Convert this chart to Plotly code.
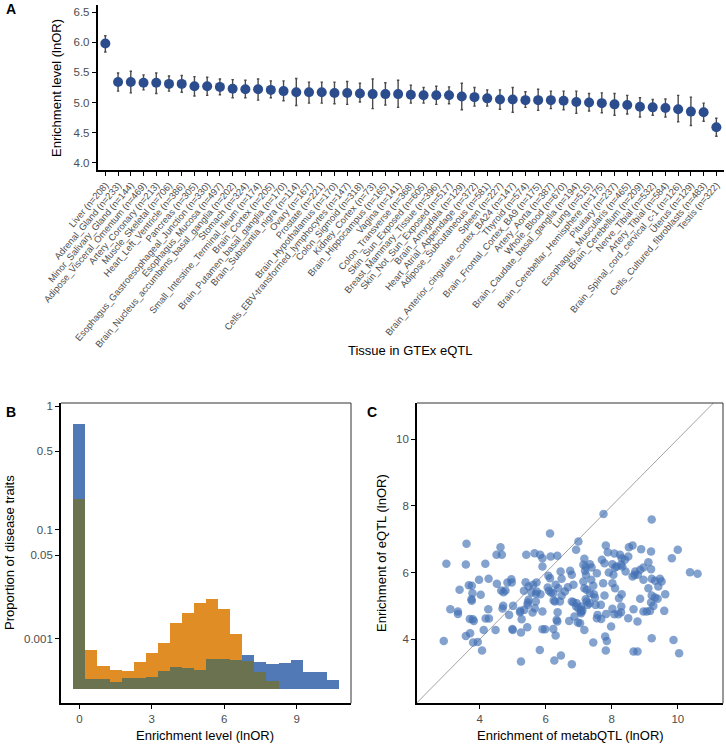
import plotly.graph_objects as go

W, H = 726, 744
FONT = "Liberation Sans, Arial, sans-serif"
TICKC = "#4d4d4d"

# ---------------- Panel A data ----------------
tissues = ["Liver (n=208)", "Adrenal_Gland (n=233)", "Minor_Salivary_Gland (n=144)",
           "Adipose_Visceral_Omentum (n=469)", "Artery_Coronary (n=213)", "Muscle_Skeletal (n=706)",
           "Heart_Left_Ventricle (n=386)", "Pancreas (n=305)", "Esophagus_Gastroesophageal_Junction (n=330)",
           "Esophagus_Mucosa (n=497)", "Brain_Nucleus_accumbens_basal_ganglia (n=202)", "Stomach (n=324)",
           "Small_Intestine_Terminal_Ileum (n=174)", "Brain_Cortex (n=205)", "Brain_Putamen_basal_ganglia (n=170)",
           "Brain_Substantia_nigra (n=114)", "Ovary (n=167)", "Prostate (n=221)", "Brain_Hypothalamus (n=170)",
           "Cells_EBV-transformed_lymphocytes (n=147)", "Colon_Sigmoid (n=318)", "Kidney_Cortex (n=73)",
           "Brain_Hippocampus (n=165)", "Vagina (n=141)", "Colon_Transverse (n=368)", "Skin_Sun_Exposed (n=605)",
           "Breast_Mammary_Tissue (n=396)", "Skin_Not_Sun_Exposed (n=517)", "Brain_Amygdala (n=129)",
           "Heart_Atrial_Appendage (n=372)", "Adipose_Subcutaneous (n=581)", "Spleen (n=227)",
           "Brain_Anterior_cingulate_cortex_BA24 (n=147)", "Thyroid (n=574)", "Brain_Frontal_Cortex_BA9 (n=175)",
           "Artery_Aorta (n=387)", "Whole_Blood (n=670)", "Brain_Caudate_basal_ganglia (n=194)", "Lung (n=515)",
           "Brain_Cerebellar_Hemisphere (n=175)", "Pituitary (n=237)", "Esophagus_Muscularis (n=465)",
           "Brain_Cerebellum (n=209)", "Nerve_Tibial (n=532)", "Artery_Tibial (n=584)",
           "Brain_Spinal_cord_cervical_c-1 (n=126)", "Uterus (n=129)", "Cells_Cultured_fibroblasts (n=483)",
           "Testis (n=322)"]
enrich = [5.98, 5.34, 5.34, 5.33, 5.33, 5.31, 5.31, 5.27, 5.27, 5.26,
          5.23, 5.22, 5.22, 5.21, 5.19, 5.17, 5.17, 5.17, 5.16, 5.16,
          5.15, 5.14, 5.14, 5.14, 5.13, 5.12, 5.12, 5.12, 5.10, 5.09,
          5.07, 5.05, 5.05, 5.04, 5.04, 5.04, 5.03, 5.01, 5.00, 4.99,
          4.97, 4.96, 4.93, 4.92, 4.91, 4.89, 4.85, 4.84, 4.59]
enrich_hi = [6.11, 5.49, 5.52, 5.46, 5.49, 5.44, 5.45, 5.43, 5.42, 5.39,
             5.38, 5.37, 5.39, 5.36, 5.36, 5.40, 5.34, 5.34, 5.34, 5.35,
             5.32, 5.39, 5.33, 5.37, 5.29, 5.25, 5.27, 5.26, 5.32, 5.25,
             5.21, 5.21, 5.25, 5.18, 5.22, 5.19, 5.19, 5.19, 5.15, 5.16,
             5.15, 5.12, 5.08, 5.05, 5.06, 5.12, 5.09, 4.99, 4.74]
enrich_lo = [5.84, 5.19, 5.16, 5.21, 5.15, 5.19, 5.17, 5.11, 5.12, 5.13,
             5.08, 5.08, 5.04, 5.08, 5.03, 4.95, 4.99, 4.99, 4.98, 4.97,
             5.01, 4.90, 4.96, 4.92, 4.99, 4.99, 4.97, 4.98, 4.88, 4.94,
             4.94, 4.89, 4.84, 4.92, 4.87, 4.90, 4.88, 4.82, 4.86, 4.83,
             4.79, 4.81, 4.76, 4.79, 4.76, 4.68, 4.62, 4.69, 4.44]

# ---------------- Panel B data ----------------
bin_centers = [0.0, 0.5, 1.0, 1.5, 2.0, 2.5, 3.0, 3.5, 4.0, 4.5, 5.0,
               5.5, 6.0, 6.5, 7.0, 7.5, 8.0, 8.5, 9.0, 9.5, 10.0, 10.5]
prop_eqtl = [0.773, 1.4e-6, 1.4e-6, 4.6e-7, 2.0e-6, 2.6e-6, 2.9e-6, 1.65e-5, 3.5e-5, 3.1e-5, 2.2e-5,
             1.22e-4, 1.22e-4, 1.11e-4, 2.1e-4, 8.8e-5, 6.2e-5, 7.6e-5, 1.11e-4, 1.22e-5, 1.22e-5, 1.03e-6]
prop_metab = [0.205, 3.64e-4, 4.16e-5, 2.2e-5, 1.65e-5, 8.0e-5, 2.55e-4, 6.9e-4, 2.93e-3, 5.07e-3, 8.5e-3,
              1.03e-2, 6.45e-3, 1.41e-3, 1.02e-4, 1.42e-5, 7.6e-7, 0, 0, 0, 0, 0]
prop_ticks = [1, 0.5, 0.1, 0.05, 0.001]
prop_tick_text = ["1", "0.5", "0.1", "0.05", "0.001"]

# ---------------- Panel C data ----------------
metab_left = [2.99, 3.58, 4.17, 3.60, 4.63, 4.51, 4.67, 2.91, 3.11, 3.34,
              3.34, 3.39, 3.67, 3.76, 3.78, 3.75, 3.76, 3.70, 3.79, 3.82,
              3.71, 3.58, 3.80, 3.94, 3.98, 4.03, 4.12, 4.07, 4.18, 4.27,
              4.28, 4.26, 4.48, 4.52, 4.65, 4.72, 4.78, 4.71, 4.69, 4.84,
              4.96, 4.97, 4.89, 5.01, 4.99, 5.00, 5.23, 5.22, 5.25, 5.25,
              5.27, 5.35, 5.34]
eqtl_left = [6.26, 6.24, 6.26, 6.86, 6.76, 6.53, 6.53, 3.95, 4.90, 4.83,
             4.76, 5.48, 5.62, 5.60, 5.38, 5.20, 5.15, 4.61, 4.60, 4.55,
             4.18, 4.10, 3.90, 3.92, 5.78, 5.33, 4.28, 3.66, 4.62, 5.81,
             4.62, 4.90, 4.28, 5.66, 5.46, 5.41, 5.46, 5.00, 4.92, 5.70,
             5.80, 5.70, 4.73, 5.00, 4.31, 4.28, 4.85, 4.81, 4.20, 3.33,
             4.60, 4.88, 5.45]
metab_mid = [5.39, 5.44, 5.48, 5.46, 5.48, 5.45, 5.57, 5.60, 5.62, 5.70,
             5.72, 5.70, 5.67, 5.73, 5.82, 5.84, 5.90, 5.90, 5.90, 5.98,
             5.41, 5.66, 5.83, 5.90, 6.15, 6.35, 6.13, 6.92, 6.99, 7.82,
             7.75, 8.08, 7.88, 7.70, 7.78, 8.02, 8.10, 7.17, 7.14, 7.21,
             7.34, 7.39,
             6.45, 6.48, 6.08, 6.13, 6.74, 6.79, 7.19, 7.22, 7.55, 8.05,
             6.06, 6.10, 6.23, 6.38, 6.58, 6.67, 6.84, 7.14, 7.17, 7.24,
             7.44, 7.34, 7.46, 7.49, 7.78, 8.02, 8.10,
             6.28, 6.43, 6.79, 6.84, 6.94, 7.07, 7.11, 7.07, 6.99, 7.24,
             7.27, 7.51, 7.83, 7.57, 7.55, 7.68, 8.02, 8.08, 6.36, 6.33,
             6.35, 6.71, 6.97, 7.04, 7.17, 7.98, 6.23, 6.30, 7.44, 7.80,
             7.85, 7.82, 6.46, 6.26, 6.79,
             6.16, 6.24, 6.30, 6.48, 6.87, 6.92, 7.21, 7.33, 7.38, 7.67,
             7.74, 7.91, 7.08, 7.06]
eqtl_mid = [5.71, 4.36, 5.58, 5.10, 5.18, 5.03, 5.40, 4.80, 5.63, 5.36,
            5.70, 5.13, 4.93, 5.43, 3.68, 5.35, 6.18, 4.83, 4.30, 4.30,
            6.53, 6.58, 6.53, 6.43, 6.48, 6.50, 7.17, 6.68, 6.93, 6.81,
            7.75, 6.57, 6.61, 6.38, 6.28, 6.25, 6.15, 6.41, 6.23, 6.17,
            6.25, 6.15,
            6.03, 5.81, 5.90, 5.83, 6.05, 5.93, 6.05, 5.93, 5.98, 5.93,
            5.55, 5.45, 5.38, 5.53, 5.43, 5.56, 5.63, 5.73, 5.53, 5.48,
            5.60, 5.38, 5.35, 5.25, 5.31, 5.68, 5.53,
            5.13, 5.13, 5.13, 5.11, 5.08, 4.98, 4.85, 4.78, 4.93, 5.13,
            5.03, 5.03, 4.76, 4.73, 4.63, 4.61, 4.91, 4.75, 4.81, 4.58,
            4.53, 4.55, 4.50, 4.48, 4.28, 4.38, 4.31, 4.11, 3.90, 4.08,
            3.95, 3.66, 3.51, 3.36, 3.25,
            5.40, 5.16, 5.63, 5.30, 4.68, 4.98, 5.20, 5.08, 5.78, 5.03,
            5.68, 6.00, 4.88, 4.82]
metab_right = [9.21, 8.52, 8.63, 8.89, 9.19, 10.00, 9.82, 10.37, 10.60, 8.25,
               8.30, 8.40, 8.50, 8.28, 8.32, 8.15, 9.11, 9.19, 8.96, 8.86,
               8.71, 8.79, 8.69, 8.63, 8.42, 8.96, 9.21, 9.31, 9.46, 9.51,
               9.41, 9.11, 9.62, 8.30, 8.22, 8.86, 9.21, 9.31, 9.39, 9.19,
               9.26, 8.66, 9.59, 8.96, 9.06, 9.16, 8.28, 8.20, 8.50, 8.78,
               9.21, 9.87, 8.66, 8.78, 10.04, 8.29]
eqtl_right = [7.59, 6.76, 6.81, 6.70, 6.63, 6.68, 6.43, 6.01, 5.96, 6.53,
              6.43, 6.38, 6.48, 6.23, 6.18, 6.18, 6.31, 6.10, 6.15, 6.08,
              6.03, 5.93, 5.93, 5.88, 6.03, 5.78, 5.81, 5.75, 5.81, 5.73,
              5.58, 5.53, 5.35, 5.35, 5.23, 5.21, 5.31, 5.25, 5.21, 5.10,
              5.00, 4.90, 4.85, 4.83, 4.83, 4.85, 4.81, 4.75, 4.63, 4.53,
              4.03, 3.98, 3.63, 3.63, 3.58, 4.98]

metab_all = metab_left + metab_mid + metab_right
eqtl_all = eqtl_left + eqtl_mid + eqtl_right

# ---------------- geometry helpers ----------------
def px_x(p):
    return p / W

def px_y(p):
    return 1 - p / H

A_L, A_R, A_T, A_B = 97.7, 724.0, 5.0, 170.0
B_L, B_R = 61.0, 351.0
C_L, C_R = 417.0, 723.0
BC_T, BC_B = 403.0, 703.3

fig = go.Figure()

# Panel A
pos = list(range(1, len(tissues) + 1))
fig.add_trace(go.Scatter(
    x=pos, y=enrich, mode="markers",
    marker=dict(color="#2B4D8E", size=10, line=dict(width=0)),
    error_y=dict(type="data", symmetric=False,
                 array=[h - v for h, v in zip(enrich_hi, enrich)],
                 arrayminus=[v - l for v, l in zip(enrich, enrich_lo)],
                 color="#4a4a4a", thickness=1.4, width=1.2),
    xaxis="x", yaxis="y", showlegend=False))

# Panel B (fourth-root scale)
def froot(v):
    return v ** 0.25

olive = [min(a, b) for a, b in zip(prop_eqtl, prop_metab)]
for vals, col in [(prop_eqtl, "#5079B5"), (prop_metab, "#DF8D24"), (olive, "#6B724F")]:
    fig.add_trace(go.Bar(x=bin_centers, y=[froot(v) for v in vals], width=0.5,
                         marker=dict(color=col, line=dict(width=0)),
                         xaxis="x2", yaxis="y2", showlegend=False))

# Panel C
fig.add_trace(go.Scatter(x=[0, 12], y=[0, 12], mode="lines",
                         line=dict(color="#8c8c8c", width=0.8),
                         xaxis="x3", yaxis="y3", showlegend=False))
fig.add_trace(go.Scatter(x=metab_all, y=eqtl_all, mode="markers",
                         marker=dict(color="rgba(66,112,180,0.65)", size=8.5, line=dict(width=0)),
                         xaxis="x3", yaxis="y3", showlegend=False))

axis_common = dict(showline=True, linecolor="black", linewidth=1.8, ticks="outside",
                   ticklen=4, tickwidth=1.3, tickcolor="black", showgrid=False, zeroline=False,
                   automargin=False, tickfont=dict(family=FONT, size=11.5, color=TICKC))

fig.update_layout(
    width=W, height=H, margin=dict(l=0, r=0, t=0, b=0),
    plot_bgcolor="white", paper_bgcolor="white", bargap=0, barmode="overlay",
    font=dict(family=FONT),
    xaxis=dict(axis_common, domain=[px_x(A_L), px_x(A_R)], range=[0.4, 49.6],
               tickmode="array", tickvals=pos, ticktext=tissues, tickangle=-50,
               tickfont=dict(family=FONT, size=9.4, color=TICKC), anchor="y"),
    yaxis=dict(axis_common, domain=[px_y(A_B), px_y(A_T)], range=[3.88, 6.62],
               tickmode="array", tickvals=[4.0, 4.5, 5.0, 5.5, 6.0, 6.5],
               ticktext=["4.0", "4.5", "5.0", "5.5", "6.0", "6.5"], anchor="x"),
    xaxis2=dict(axis_common, domain=[px_x(B_L), px_x(B_R)], range=[-0.76, 11.25],
                tickmode="array", tickvals=[0, 3, 6, 9], anchor="y2"),
    yaxis2=dict(axis_common, domain=[px_y(BC_B), px_y(BC_T)], range=[-0.0507, 1.0107],
                tickmode="array", tickvals=[froot(v) for v in prop_ticks],
                ticktext=prop_tick_text, anchor="x2"),
    xaxis3=dict(axis_common, domain=[px_x(C_L), px_x(C_R)], range=[2.10, 11.37],
                tickmode="array", tickvals=[4, 6, 8, 10], anchor="y3"),
    yaxis3=dict(axis_common, domain=[px_y(BC_B), px_y(BC_T)], range=[2.08, 11.08],
                tickmode="array", tickvals=[4, 6, 8, 10], anchor="x3"),
)

# thin frame on top/right of panels B and C
shapes = []
for L, R in [(B_L, B_R), (C_L, C_R)]:
    shapes.append(dict(type="line", xref="paper", yref="paper", x0=px_x(L), x1=px_x(R),
                       y0=px_y(BC_T), y1=px_y(BC_T), line=dict(color="#333333", width=1)))
    shapes.append(dict(type="line", xref="paper", yref="paper", x0=px_x(R), x1=px_x(R),
                       y0=px_y(BC_T), y1=px_y(BC_B), line=dict(color="#333333", width=1)))
fig.update_layout(shapes=shapes)

def ann(text, x, y, size=13, angle=0, bold=False, color="black"):
    return dict(text=f"<b>{text}</b>" if bold else text, x=px_x(x), y=px_y(y),
                xref="paper", yref="paper", showarrow=False, textangle=angle,
                xanchor="center", yanchor="middle",
                font=dict(family=FONT, size=size, color=color))

fig.update_layout(annotations=[
    ann("A", 11, 9, size=14, bold=True),
    ann("B", 11, 412, size=14, bold=True),
    ann("C", 372, 412, size=14, bold=True),
    ann("Enrichment level (lnOR)", 56, 88, angle=-90),
    ann("Tissue in GTEx eQTL", 410, 350),
    ann("Proportion of disease traits", 9, 553, angle=-90),
    ann("Enrichment level (lnOR)", 205, 735),
    ann("Enrichment of eQTL (lnOR)", 381, 553, angle=-90),
    ann("Enrichment of metabQTL (lnOR)", 570, 735),
])

fig.write_html("out.html", config={"displayModeBar": False},
               post_script="document.body.style.margin='0';document.body.style.overflow='hidden';")
